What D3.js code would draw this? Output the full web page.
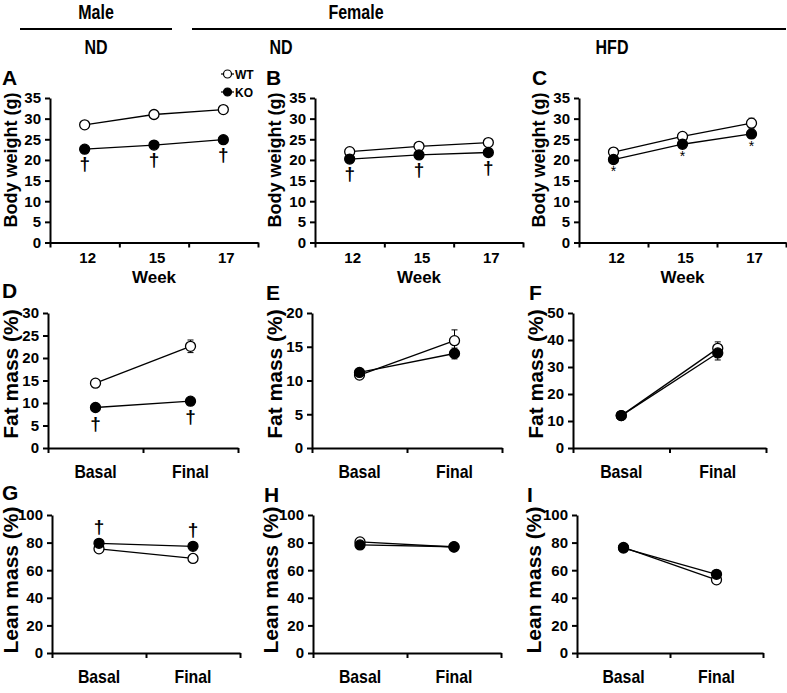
<!DOCTYPE html>
<html>
<head>
<meta charset="utf-8">
<script src="https://cdn.jsdelivr.net/npm/d3@7"></script>
<style>
	body { margin: 0; background: #fff; }
	text { font-family: "Liberation Sans", Arial, sans-serif; font-weight: bold; fill: #000; }
	.axis path, .axis line { stroke: #000; stroke-width: 2px; }
	.axis text { font-size: 15px; }
</style>
</head>
<body>
<script>
// categories
var weeks = ["12", "15", "17"];
var phases = ["Basal", "Final"];

// body weight (g)
var bwMaleNdWT = [28.5, 31.0, 32.2];
var bwMaleNdKO = [22.6, 23.6, 24.9];
var bwFemNdWT = [22.0, 23.3, 24.2];
var bwFemNdKO = [20.2, 21.2, 21.8];
var bwFemHfdWT = [21.9, 25.7, 28.9];
var bwFemHfdKO = [20.1, 23.8, 26.3];
var bwMaleNdWTErr = [0.3, 0.4, 0.5];
var bwMaleNdKOErr = [0.4, 0.4, 0.7];
var bwFemNdWTErr = [0.3, 0.3, 0.4];
var bwFemNdKOErr = [0.3, 0.3, 0.4];
var bwFemHfdWTErr = [0.4, 0.8, 1.2];
var bwFemHfdKOErr = [0.6, 0.8, 1.0];

// fat mass (%)
var fatMaleNdWT = [14.4, 22.6];
var fatMaleNdKO = [9.0, 10.4];
var fatFemNdWT = [10.8, 15.9];
var fatFemNdKO = [11.2, 14.0];
var fatFemHfdWT = [12.0, 36.9];
var fatFemHfdKO = [12.0, 35.2];
var fatMaleNdWTErr = [0.7, 1.4];
var fatMaleNdKOErr = [0.4, 0.5];
var fatFemNdWTErr = [0.4, 1.6];
var fatFemNdKOErr = [0.4, 0.8];
var fatFemHfdWTErr = [0.6, 2.4];
var fatFemHfdKOErr = [0.6, 2.6];

// lean mass (%)
var leanMaleNdWT = [75.5, 68.5];
var leanMaleNdKO = [79.5, 77.3];
var leanFemNdWT = [80.5, 76.8];
var leanFemNdKO = [78.3, 77.0];
var leanFemHfdWT = [76.5, 53.0];
var leanFemHfdKO = [76.0, 57.0];
var leanErr = [0.8, 1.0];

var svg = d3.select("body").append("svg")
	.attr("width", 787)
	.attr("height", 693);

// narrow bold text (the figure uses a condensed face)
function squeezeText(x, y, str, size, sx) {
	return svg.append("text")
		.attr("transform", "translate(" + x + "," + y + ") scale(" + sx + ",1)")
		.attr("text-anchor", "middle")
		.style("font-size", size + "px")
		.text(str);
}

// header
squeezeText(96, 19, "Male", 20, 0.8);
squeezeText(356, 19, "Female", 20, 0.8);
svg.append("line").attr("x1", 20).attr("x2", 172).attr("y1", 29).attr("y2", 29)
	.attr("stroke", "#000").attr("stroke-width", 2);
svg.append("line").attr("x1", 192).attr("x2", 786).attr("y1", 29).attr("y2", 29)
	.attr("stroke", "#000").attr("stroke-width", 2);
squeezeText(96, 54, "ND", 20, 0.8);
squeezeText(281, 54, "ND", 20, 0.8);
squeezeText(612, 54, "HFD", 20, 0.8);

function drawPanel(p) {
	var n = p.cats.length;
	var xs = d3.scaleLinear().domain([0, n]).range([p.left, p.right]);
	var y = d3.scaleLinear().domain([0, p.max]).range([p.bottom, p.top]);
	var xc = function(i) { return xs(i + 0.5); };

	svg.append("g")
		.attr("class", "axis")
		.attr("transform", "translate(0," + p.bottom + ")")
		.call(d3.axisBottom(xs).tickValues(d3.range(n + 1)).tickFormat("").tickSize(5).tickSizeOuter(0));

	svg.append("g")
		.attr("class", "axis")
		.attr("transform", "translate(" + p.left + ",0)")
		.call(d3.axisLeft(y).tickValues(d3.range(0, p.max + 1, p.step)).tickSize(5).tickSizeOuter(0).tickPadding(4));

	// category labels
	p.cats.forEach(function(c, i) {
		squeezeText(xc(i) + p.labDx, p.labY, c, p.labSize, p.labSx);
	});
	if (p.xTitle) {
		svg.append("text")
			.attr("x", xc(1)).attr("y", p.bottom + 40)
			.attr("text-anchor", "middle")
			.style("font-size", "17px")
			.text(p.xTitle);
	}

	// y title
	svg.append("text")
		.attr("transform", "translate(" + p.yTitleX + "," + p.yTitleY + ") rotate(-90)")
		.attr("text-anchor", "middle")
		.attr("dominant-baseline", "middle")
		.style("font-size", p.yTitleSize + "px")
		.text(p.yTitle);

	// panel letter
	svg.append("text")
		.attr("x", p.letterX).attr("y", p.letterY)
		.style("font-size", "21px")
		.text(p.letter);

	var line = d3.line()
		.x(function(d, i) { return xc(i); })
		.y(function(d) { return y(d); });

	[p.wt, p.ko].forEach(function(s) {
		svg.append("path")
			.datum(s)
			.attr("d", line)
			.attr("fill", "none")
			.attr("stroke", "#000")
			.attr("stroke-width", 1.3);
	});

	// error bars
	[[p.wt, p.wtErr], [p.ko, p.koErr]].forEach(function(pair) {
		pair[0].forEach(function(v, i) {
			var e = pair[1][i];
			var x = xc(i);
			svg.append("line").attr("x1", x).attr("x2", x)
				.attr("y1", y(v - e)).attr("y2", y(v + e))
				.attr("stroke", "#000").attr("stroke-width", 1);
			[v - e, v + e].forEach(function(b) {
				svg.append("line").attr("x1", x - 3).attr("x2", x + 3)
					.attr("y1", y(b)).attr("y2", y(b))
					.attr("stroke", "#000").attr("stroke-width", 1);
			});
		});
	});

	svg.selectAll(null)
		.data(p.wt).enter()
		.append("circle")
		.attr("cx", function(d, i) { return xc(i); })
		.attr("cy", function(d) { return y(d); })
		.attr("r", 5)
		.attr("fill", "#fff")
		.attr("stroke", "#000")
		.attr("stroke-width", 1.3);

	svg.selectAll(null)
		.data(p.ko).enter()
		.append("circle")
		.attr("cx", function(d, i) { return xc(i); })
		.attr("cy", function(d) { return y(d); })
		.attr("r", 5)
		.attr("fill", "#000")
		.attr("stroke", "#000")
		.attr("stroke-width", 1.3);

	// significance marks on KO
	if (p.sig) {
		p.ko.forEach(function(v, i) {
			svg.append("text")
				.attr("x", xc(i))
				.attr("y", y(v) + p.sigDy)
				.attr("text-anchor", "middle")
				.attr("dominant-baseline", "middle")
				.style("font-size", p.sigSize + "px")
				.style("font-weight", p.sig == "*" ? "normal" : "bold")
				.text(p.sig);
		});
	}
	return { x: xc, y: y };
}

var row1 = { top: 98, bottom: 242.5, max: 35, step: 5, cats: weeks, labY: 263, labSize: 15, labSx: 1, labDx: 3,
	xTitle: "Week", yTitle: "Body weight (g)", yTitleSize: 18, yTitleY: 160 };
var row2 = { top: 313, bottom: 448, cats: phases, labY: 478, labSize: 18, labSx: 0.88, labDx: 0,
	yTitle: "Fat mass (%)", yTitleSize: 21, yTitleY: 374 };
var row3 = { top: 515, bottom: 653, max: 100, step: 20, cats: phases, labY: 683, labSize: 18, labSx: 0.88, labDx: 0,
	yTitle: "Lean mass (%)", yTitleSize: 21, yTitleY: 580 };

var panels = [
	Object.assign({}, row1, { left: 50, right: 258, wt: bwMaleNdWT, ko: bwMaleNdKO, wtErr: bwMaleNdWTErr, koErr: bwMaleNdKOErr,
		letter: "A", letterX: 2, letterY: 85, yTitleX: 12, sig: "†", sigDy: 16, sigSize: 19 }),
	Object.assign({}, row1, { left: 315, right: 523, wt: bwFemNdWT, ko: bwFemNdKO, wtErr: bwFemNdWTErr, koErr: bwFemNdKOErr,
		letter: "B", letterX: 266, letterY: 85, yTitleX: 276, sig: "†", sigDy: 16, sigSize: 19 }),
	Object.assign({}, row1, { left: 579, right: 786, wt: bwFemHfdWT, ko: bwFemHfdKO, wtErr: bwFemHfdWTErr, koErr: bwFemHfdKOErr,
		letter: "C", letterX: 532, letterY: 85, yTitleX: 540, sig: "*", sigDy: 13, sigSize: 14 }),
	Object.assign({}, row2, { left: 48, right: 238, max: 30, step: 5, wt: fatMaleNdWT, ko: fatMaleNdKO, wtErr: fatMaleNdWTErr, koErr: fatMaleNdKOErr,
		letter: "D", letterX: 2, letterY: 298, yTitleX: 12, sig: "†", sigDy: 17, sigSize: 19 }),
	Object.assign({}, row2, { left: 312, right: 502, max: 20, step: 5, wt: fatFemNdWT, ko: fatFemNdKO, wtErr: fatFemNdWTErr, koErr: fatFemNdKOErr,
		letter: "E", letterX: 266, letterY: 300, yTitleX: 276 }),
	Object.assign({}, row2, { left: 573, right: 766, max: 50, step: 10, wt: fatFemHfdWT, ko: fatFemHfdKO, wtErr: fatFemHfdWTErr, koErr: fatFemHfdKOErr,
		letter: "F", letterX: 529, letterY: 300, yTitleX: 537 }),
	Object.assign({}, row3, { left: 52, right: 240, wt: leanMaleNdWT, ko: leanMaleNdKO, wtErr: leanErr, koErr: leanErr,
		letter: "G", letterX: 2, letterY: 500, yTitleX: 12, sig: "†", sigDy: -15, sigSize: 19 }),
	Object.assign({}, row3, { left: 313, right: 501, wt: leanFemNdWT, ko: leanFemNdKO, wtErr: leanErr, koErr: leanErr,
		letter: "H", letterX: 264, letterY: 502, yTitleX: 272 }),
	Object.assign({}, row3, { left: 577, right: 763, wt: leanFemHfdWT, ko: leanFemHfdKO, wtErr: leanErr, koErr: leanErr,
		letter: "I", letterX: 527, letterY: 502, yTitleX: 535 })
];

panels.forEach(drawPanel);

// legend (panel A)
[["WT", "#fff", 74], ["KO", "#000", 92]].forEach(function(l) {
	svg.append("line").attr("x1", 221).attr("x2", 234).attr("y1", l[2]).attr("y2", l[2])
		.attr("stroke", "#000").attr("stroke-width", 1.2);
	svg.append("circle").attr("cx", 227.5).attr("cy", l[2]).attr("r", 4)
		.attr("fill", l[1]).attr("stroke", "#000").attr("stroke-width", 1.2);
	svg.append("text").attr("x", 235).attr("y", l[2] + 4.5)
		.style("font-size", "12px")
		.text(l[0]);
});
</script>
</body>
</html>
